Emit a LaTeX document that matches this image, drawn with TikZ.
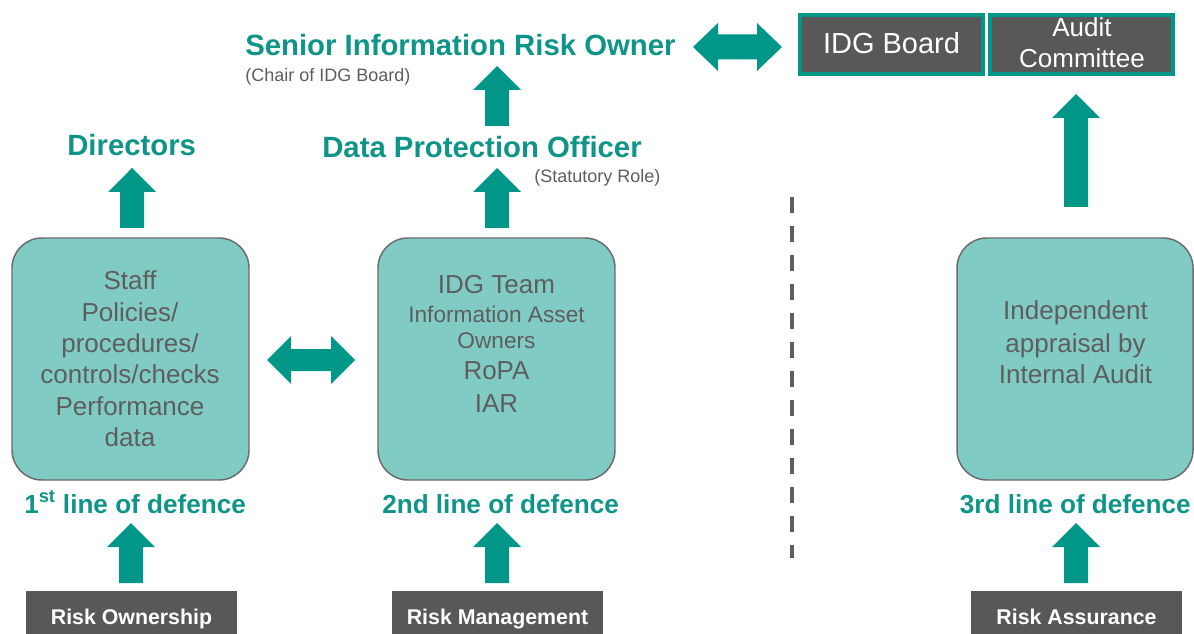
\documentclass[tikz,border=0pt]{standalone}
\usepackage{fontspec}
\setmainfont{Liberation Sans}
\definecolor{arrowc}{HTML}{009688}
\definecolor{tealT}{HTML}{0F9488}
\definecolor{boxfill}{HTML}{80CBC4}
\definecolor{boxline}{HTML}{6B6B6B}
\definecolor{darkc}{HTML}{5A5857}
\definecolor{grayT}{HTML}{5E5E5E}
\newcommand\UpArr[3]{\fill[arrowc] (#1-12,#3) -- (#1-12,#2+24) -- (#1-24,#2+24) -- (#1,#2) -- (#1+24,#2+24) -- (#1+12,#2+24) -- (#1+12,#3) -- cycle;}
\newcommand\LRArr[6]{\fill[arrowc] (#1,#3) -- (#1+#4,#3-#5) -- (#1+#4,#3-#6) -- (#2-#4,#3-#6) -- (#2-#4,#3-#5) -- (#2,#3) -- (#2-#4,#3+#5) -- (#2-#4,#3+#6) -- (#1+#4,#3+#6) -- (#1+#4,#3+#5) -- cycle;}
\begin{document}
\begin{tikzpicture}[x=0.75pt,y=-0.75pt,
  rbox/.style={draw=boxline, line width=1.1pt, fill=boxfill, rounded corners=22.5pt,
    minimum width=177.75pt, minimum height=181.5pt, inner sep=0pt},
  riskbox/.style={fill=darkc, minimum width=158.25pt, minimum height=32.25pt, inner sep=0pt},
  topbox/.style={fill=darkc, draw=arrowc, line width=3pt, minimum width=137.25pt, minimum height=44.25pt, inner sep=0pt},
  head/.style={text=tealT, font=\fontsize{22}{26}\selectfont\bfseries, inner sep=0pt},
  lod/.style={text=tealT, font=\fontsize{19.6}{23}\selectfont\bfseries, inner sep=0pt},
  note/.style={text=grayT, font=\fontsize{13.5}{16}\selectfont, inner sep=0pt},
  btxt/.style={text=grayT, font=\fontsize{19.5}{23.5}\selectfont, inner sep=0pt, anchor=base},
  stxt/.style={text=grayT, font=\fontsize{17}{20}\selectfont, inner sep=0pt, anchor=base},
  wbold/.style={text=white, font=\fontsize{16}{19}\selectfont\bfseries, inner sep=0pt, anchor=base},
  wtxt/.style={text=white, font=\fontsize{19.5}{23}\selectfont, inner sep=0pt, anchor=base},
  dashline/.style={draw=grayT, line width=3pt, dash pattern=on 12pt off 9.75pt}]
\useasboundingbox (0,0) rectangle (1194,634);
\fill[white] (0,0) rectangle (1194,634);

% top headings
\node[head, anchor=base west] (siro) at (245,56) {Senior Information Risk Owner};
\node[note, anchor=base west] (chair) at (245,82) {(Chair of IDG Board)};
\node[head, anchor=base west] (dpo) at (322,158) {Data Protection Officer};
\node[note, anchor=base west] (stat) at (534,183) {(Statutory Role)};
\node[head, anchor=base west] (dir) at (67,156) {Directors};

% top boxes
\node[topbox] (idg) at (891.5,44.5) {};
\node[wtxt, font=\fontsize{21.75}{26}\selectfont] (idgt) at (891.5,54) {IDG Board};
\node[topbox] (audit) at (1081.5,44.5) {};
\node[wtxt] (audt1) at (1082,37) {Audit};
\node[wtxt] (audt2) at (1082,68) {Committee};

% rounded boxes
\node[rbox] (b1) at (130.5,359) {};
\node[btxt] (b1a) at (130,290) {Staff};
\node[btxt] (b1b) at (130,321) {Policies/};
\node[btxt] (b1c) at (130,352) {procedures/};
\node[btxt] (b1d) at (130,383) {controls/checks};
\node[btxt] (b1e) at (130,415) {Performance};
\node[btxt] (b1f) at (130,446) {data};

\node[rbox] (b2) at (496.5,359) {};
\node[btxt] (b2a) at (496.5,293) {IDG Team};
\node[stxt] (b2b) at (496.5,322) {Information Asset};
\node[stxt] (b2c) at (496.5,348) {Owners};
\node[btxt] (b2d) at (496.5,379) {RoPA};
\node[btxt] (b2e) at (496.5,412) {IAR};

\node[rbox, minimum width=177pt] (b3) at (1075,359) {};
\node[btxt] (b3a) at (1075.5,320) {Independent};
\node[btxt] (b3b) at (1075.5,352) {appraisal by};
\node[btxt] (b3c) at (1075.5,383) {Internal Audit};

% line of defence labels
\node[lod, anchor=base west] (l1) at (24,513) {1\textsuperscript{st} line of defence};
\node[lod, anchor=base west] (l2) at (382,513) {2nd line of defence};
\node[lod, anchor=base east] (l3) at (1191,513) {3rd line of defence};

% risk boxes
\node[riskbox] (ro) at (131.5,612.5) {};
\node[wbold] (rot) at (131.5,624) {Risk Ownership};
\node[riskbox] (rm) at (497.5,612.5) {};
\node[wbold] (rmt) at (497.5,624) {Risk Management};
\node[riskbox] (ra) at (1076.5,612.5) {};
\node[wbold] (rat) at (1076.5,624) {Risk Assurance};

% block arrows
\UpArr{132}{168}{228}
\UpArr{497}{66}{126}
\UpArr{497}{168}{228}
\UpArr{1076}{94}{207}
\UpArr{131}{523}{583}
\UpArr{497}{523}{583}
\UpArr{1076}{523}{583}
\LRArr{693}{782}{47}{25}{24}{12.5}
\LRArr{267}{355}{360}{24}{24}{11}

% dashed divider
\coordinate (d1) at (792,197);
\coordinate (d2) at (792,558);
\draw[dashline] (d1) -- (d2);
\end{tikzpicture}
\end{document}
